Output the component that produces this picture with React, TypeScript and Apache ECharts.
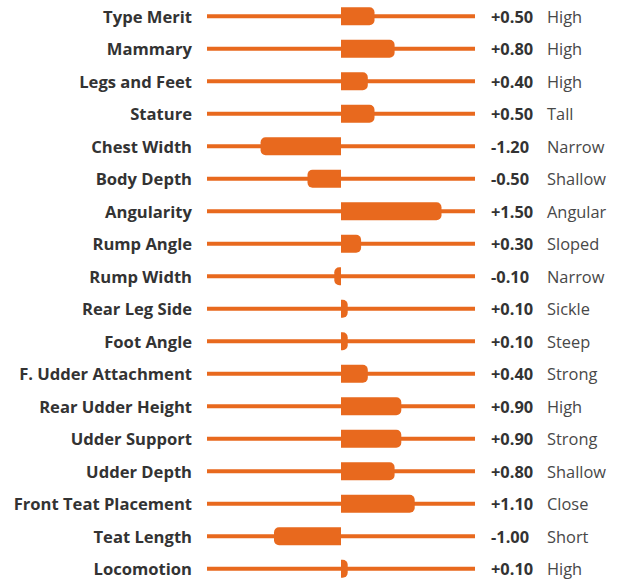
import React, { useEffect, useRef } from "react";
import * as echarts from "echarts";

const categories = [
  "Type Merit",
  "Mammary",
  "Legs and Feet",
  "Stature",
  "Chest Width",
  "Body Depth",
  "Angularity",
  "Rump Angle",
  "Rump Width",
  "Rear Leg Side",
  "Foot Angle",
  "F. Udder Attachment",
  "Rear Udder Height",
  "Udder Support",
  "Udder Depth",
  "Front Teat Placement",
  "Teat Length",
  "Locomotion",
];

const values = [0.5, 0.8, 0.4, 0.5, -1.2, -0.5, 1.5, 0.3, -0.1, 0.1, 0.1, 0.4, 0.9, 0.9, 0.8, 1.1, -1.0, 0.1];

const descriptors = [
  "High",
  "High",
  "High",
  "Tall",
  "Narrow",
  "Shallow",
  "Angular",
  "Sloped",
  "Narrow",
  "Sickle",
  "Steep",
  "Strong",
  "High",
  "Strong",
  "Shallow",
  "Close",
  "Short",
  "High",
];

const axisMin = -2;
const axisMax = 2;

const ORANGE = "#E8691E";

function fmt(v: number): string {
  return (v > 0 ? "+" : v < 0 ? "-" : "") + Math.abs(v).toFixed(2);
}

export default function App() {
  const ref = useRef<HTMLDivElement>(null);

  useEffect(() => {
    if (!ref.current) return;
    const chart = echarts.init(ref.current, undefined, { renderer: "svg" });
    chart.setOption({
      animation: false,
      grid: { left: 207, width: 268, top: 0, height: 585 },
      xAxis: {
        type: "value",
        min: axisMin,
        max: axisMax,
        show: false,
        splitLine: { show: false },
      },
      yAxis: [
        {
          type: "category",
          data: categories,
          inverse: true,
          position: "left",
          axisLine: { show: false },
          axisTick: { show: false },
          axisLabel: {
            margin: 15,
            fontFamily: "Open Sans",
            fontWeight: "bold",
            fontSize: 16.6,
            color: "#333333",
          },
        },
        {
          type: "category",
          data: categories,
          inverse: true,
          position: "right",
          axisLine: { show: false },
          axisTick: { show: false },
          axisLabel: {
            margin: 16,
            align: "left",
            formatter: (_: string, index: number) =>
              `{v|${fmt(values[index])}}{d|${descriptors[index]}}`,
            rich: {
              v: {
                fontFamily: "Open Sans",
                fontWeight: "bold",
                fontSize: 16.4,
                color: "#333333",
                width: 56,
              },
              d: {
                fontFamily: "Open Sans",
                fontSize: 16.4,
                color: "#484848",
              },
            },
          },
        },
      ],
      series: [
        {
          type: "custom",
          yAxisIndex: 0,
          clip: false,
          data: values.map((v, i) => [v, i]),
          encode: { x: 0, y: 1 },
          renderItem: (params: any, api: any) => {
            const v = api.value(0);
            const idx = api.value(1);
            const s = api.coord([axisMin, idx]);
            const e = api.coord([axisMax, idx]);
            const z = api.coord([0, idx]);
            const p = api.coord([v, idx]);
            const cy = z[1];
            const h = 18;
            const w = Math.abs(p[0] - z[0]);
            const r = Math.min(5, w);
            return {
              type: "group",
              children: [
                {
                  type: "line",
                  shape: { x1: s[0], y1: cy, x2: e[0], y2: cy },
                  style: { stroke: ORANGE, lineWidth: 4 },
                },
                {
                  type: "rect",
                  shape: {
                    x: Math.min(z[0], p[0]),
                    y: cy - h / 2,
                    width: w,
                    height: h,
                    r: v >= 0 ? [0, r, r, 0] : [r, 0, 0, r],
                  },
                  style: { fill: ORANGE },
                },
              ],
            };
          },
        },
      ],
    });
    return () => chart.dispose();
  }, []);

  return (
    <div
      ref={ref}
      style={{ position: "fixed", left: 0, top: 0, width: 624, height: 600, background: "#ffffff" }}
    />
  );
}
